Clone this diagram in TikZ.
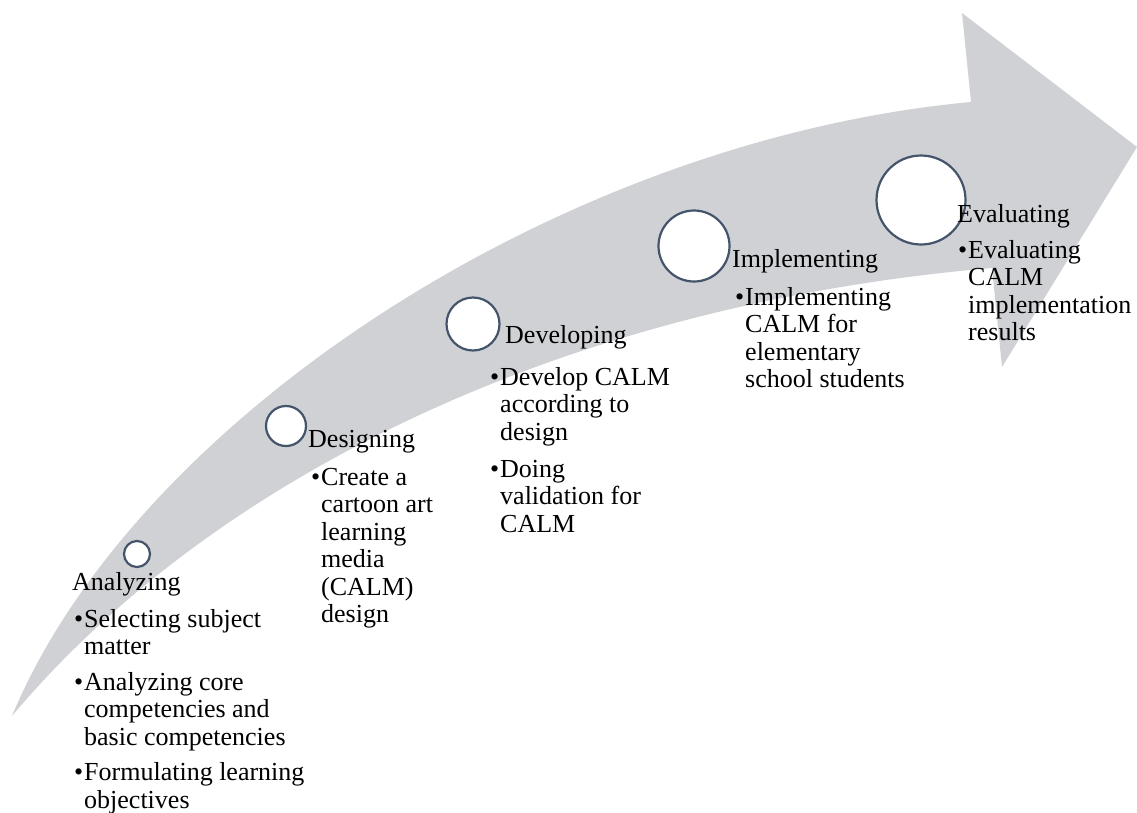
\documentclass[tikz,border=0pt]{standalone}
\usepackage{fontspec}
\setmainfont{Liberation Serif}
\definecolor{band}{RGB}{208,209,213}
\definecolor{ring}{RGB}{68,84,106}
\newcommand{\hd}[2]{\hbox{\hspace{#1}#2}}
\newcommand{\bl}[1]{\hbox{\makebox[10pt][l]{\textbullet}#1}}
\newcommand{\cl}[1]{\hbox{\hspace{10pt}#1}}
\newcommand{\gap}[1]{\vskip#1\relax}
\begin{document}
\begin{tikzpicture}[x=1pt,y=-1pt,
  ringnode/.style={circle, draw=ring, line width=2.2pt, fill=white, inner sep=0pt, minimum size=#1},
  txt/.style={anchor=base west, inner sep=0pt, font=\fontsize{26}{27.5}\selectfont}]
\useasboundingbox (0,0) rectangle (1137,812);
% bending arrow
\coordinate (tail) at (12,716);
\coordinate (inU) at (971,102);
\coordinate (barbU) at (962,13);
\coordinate (tip) at (1137,147);
\coordinate (barbL) at (1002,367);
\coordinate (inL) at (992,268);
\fill[band] (tail) .. controls (135,420) and (560,140) .. (inU)
  -- (barbU) -- (tip) -- (barbL) -- (inL)
  .. controls (560,305) and (210,480) .. (tail) -- cycle;
% circles
\node[ringnode=26pt] (c1) at (137,554) {};
\node[ringnode=40pt] (c2) at (286,426) {};
\node[ringnode=53pt] (c3) at (473,324) {};
\node[ringnode=71pt] (c4) at (694,246) {};
\node[ringnode=89pt] (c5) at (921,200) {};
% texts
\node[txt] (tA) at (74,590) {\vtop{\hd{-2pt}{Analyzing}\gap{9.5pt}\bl{Selecting subject}\cl{matter}\gap{8pt}\bl{Analyzing core}\cl{competencies and}\cl{basic competencies}\gap{8pt}\bl{Formulating learning}\cl{objectives}}};
\node[txt] (tB) at (311,447) {\vtop{\hd{-3pt}{Designing}\gap{10.5pt}\bl{Create a}\cl{cartoon art}\cl{learning}\cl{media}\cl{(CALM)}\cl{design}}};
\node[txt] (tC) at (490,343) {\vtop{\hd{15pt}{Developing}\gap{14.5pt}\bl{Develop CALM}\cl{according to}\cl{design}\gap{9.5pt}\bl{Doing}\cl{validation for}\cl{CALM}}};
\node[txt] (tD) at (735,267) {\vtop{\hd{-3pt}{Implementing}\gap{10.5pt}\bl{Implementing}\cl{CALM for}\cl{elementary}\cl{school students}}};
\node[txt] (tE) at (958,222) {\vtop{\hd{-1pt}{Evaluating}\gap{8.5pt}\bl{Evaluating}\cl{CALM}\cl{implementation}\cl{results}}};
\end{tikzpicture}
\end{document}
